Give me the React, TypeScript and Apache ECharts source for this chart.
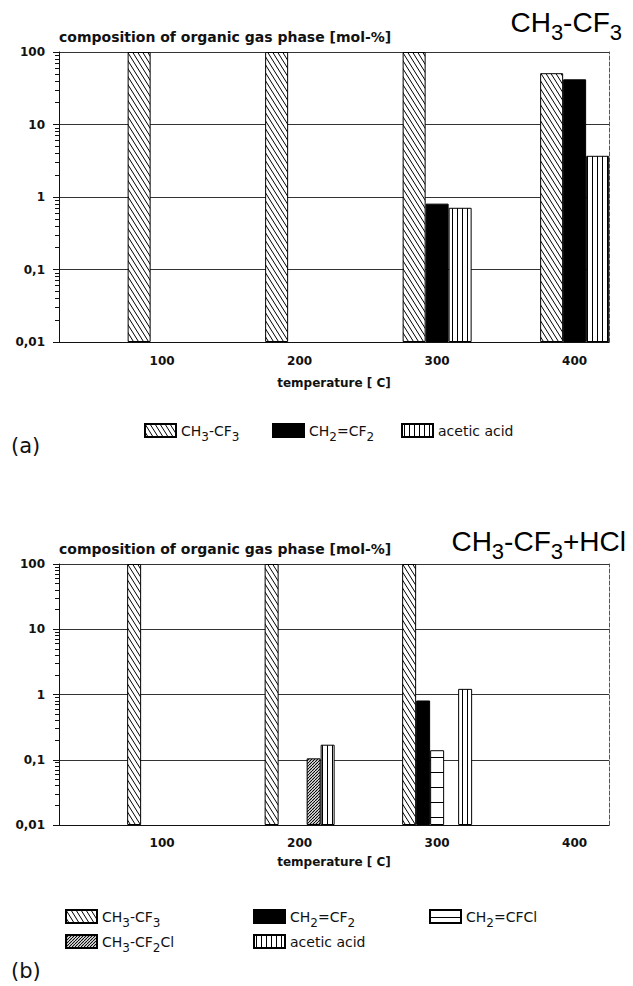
import React, { useEffect, useRef } from "react";
import * as echarts from "echarts";

// ---------- data ----------
const X_MIN = 25;
const X_MAX = 425;
const temps = [100, 200, 300, 400];
const yTickLabels = ["0,01", "0,1", "1", "10", "100"];

// (a) CH3-CF3
const aCH3CF3 = [100, 100, 100, 51];
const aCH2CF2 = [null, null, 0.81, 42];
const aAcetic = [null, null, 0.71, 3.7];

// (b) CH3-CF3 + HCl
const bCH3CF3 = [100, 100, 100, null];
const bCH2CF2 = [null, null, 0.81, null];
const bCH2CFCl = [null, null, 0.14, null];
const bCH3CF2Cl = [null, 0.105, null, null];
const bAcetic = [null, 0.17, 1.22, null];

const FONT = "DejaVu Sans";

function pairs(vals: (number | null)[]) {
  const out: number[][] = [];
  temps.forEach((t, i) => {
    const v = vals[i];
    if (v != null) out.push([t, v]);
  });
  return out;
}

function makePattern(w: number, h: number, draw: (ctx: CanvasRenderingContext2D) => void) {
  const c = document.createElement("canvas");
  c.width = w;
  c.height = h;
  const ctx = c.getContext("2d")!;
  ctx.fillStyle = "#fff";
  ctx.fillRect(0, 0, w, h);
  ctx.strokeStyle = "#000";
  ctx.fillStyle = "#000";
  ctx.lineWidth = 1;
  draw(ctx);
  return { image: c.toDataURL(), repeat: "repeat", imageWidth: w, imageHeight: h } as any;
}

const richNames: Record<string, string> = {
  "CH3-CF3": "{n|CH}{s|3}{n|-CF}{s|3}",
  "CH2=CF2": "{n|CH}{s|2}{n|=CF}{s|2}",
  "acetic acid": "{n|acetic acid}",
  "CH2=CFCl": "{n|CH}{s|2}{n|=CFCl}",
  "CH3-CF2Cl": "{n|CH}{s|3}{n|-CF}{s|2}{n|Cl}",
};

export default function App() {
  const ref = useRef<HTMLDivElement>(null);
  useEffect(() => {
    if (!ref.current) return;
    const chart = echarts.init(ref.current, null, { renderer: "svg" });

    const back = makePattern(5, 8, (ctx) => {
      ctx.beginPath();
      for (let k = -1; k <= 1; k++) {
        ctx.moveTo(k * 5, 0);
        ctx.lineTo(k * 5 + 5, 8);
      }
      ctx.stroke();
    });
    const fwd = makePattern(3, 3, (ctx) => {
      ctx.lineWidth = 1.1;
      ctx.beginPath();
      for (let k = -1; k <= 1; k++) {
        ctx.moveTo(k * 3, 3);
        ctx.lineTo(k * 3 + 3, 0);
      }
      ctx.stroke();
    });
    const vert = makePattern(5, 4, (ctx) => {
      ctx.fillRect(2, 0, 1, 4);
    });
    const horiz = makePattern(4, 15, (ctx) => {
      ctx.fillRect(0, 7, 4, 1);
    });
    const solid = "#000";

    const legendRich = {
      n: { fontFamily: FONT, fontSize: 14, lineHeight: 18, verticalAlign: "middle", color: "#111" },
      s: { fontFamily: FONT, fontSize: 12, height: 6, lineHeight: 6, verticalAlign: "bottom", color: "#111" },
    };
    const titleRich = {
      n: { fontFamily: "Liberation Sans", fontWeight: "normal", fontSize: 28, lineHeight: 30, verticalAlign: "middle", color: "#000" },
      s: { fontFamily: "Liberation Sans", fontWeight: "normal", fontSize: 22, height: 10, lineHeight: 10, verticalAlign: "bottom", color: "#000" },
    };

    const mkLegend = (name: string, left: number, top: number) => ({
      data: [name],
      left,
      top,
      itemWidth: 31,
      itemHeight: 13,
      icon: "rect",
      selectedMode: false,
      formatter: (n: string) => richNames[n] || n,
      textStyle: { rich: legendRich },
    });

    const xAxisBase = (gridIndex: number, nameGap: number, margin: number) => ({
      gridIndex,
      type: "value",
      min: X_MIN,
      max: X_MAX,
      axisLine: { show: true, onZero: false, lineStyle: { color: "#111", width: 1 } },
      axisTick: { show: false },
      splitLine: { show: false },
      axisLabel: {
        customValues: temps,
        margin,
        color: "#111",
        fontFamily: FONT,
        fontWeight: "bold",
        fontSize: 12,
      },
      name: "temperature [ C]",
      nameLocation: "middle",
      nameGap,
      nameTextStyle: { fontFamily: FONT, fontWeight: "bold", fontSize: 12, color: "#111", verticalAlign: "middle" },
    });

    const yAxisLeft = (gridIndex: number) => ({
      gridIndex,
      type: "log",
      logBase: 10,
      min: 0.01,
      max: 100,
      startValue: 0.01,
      axisLine: { show: true, lineStyle: { color: "#111", width: 1 } },
      axisTick: { show: true, length: 6, lineStyle: { color: "#111" } },
      minorTick: { show: true, splitNumber: 9, length: 4, lineStyle: { color: "#111", width: 1 } },
      axisLabel: {
        margin: 14,
        color: "#111",
        fontFamily: FONT,
        fontWeight: "bold",
        fontSize: 12,
        formatter: (v: number) => yTickLabels[Math.round(Math.log10(v)) + 2] ?? "",
      },
      splitLine: { show: true, lineStyle: { color: "#333", width: 1 } },
      name: "composition of organic gas phase [mol-%]",
      nameLocation: "end",
      nameGap: 15,
      nameTextStyle: {
        align: "left",
        verticalAlign: "middle",
        fontFamily: FONT,
        fontWeight: "bold",
        fontSize: 14,
        color: "#111",
      },
    });

    const yAxisRight = (gridIndex: number) => ({
      gridIndex,
      type: "log",
      logBase: 10,
      min: 0.01,
      max: 100,
      position: "right",
      axisLine: { show: true, lineStyle: { color: "#555", width: 1, type: "dashed" } },
      axisTick: { show: false },
      axisLabel: { show: false },
      splitLine: { show: false },
    });

    const bar = (name: string, axis: number, yAxis: number, vals: (number | null)[], color: any, width: number) => ({
      type: "bar",
      name,
      xAxisIndex: axis,
      yAxisIndex: yAxis,
      barWidth: width,
      barGap: "0%",
      data: pairs(vals),
      itemStyle: { color, borderColor: "#000", borderWidth: 1 },
    });

    const option: any = {
      animation: false,
      backgroundColor: "#fff",
      textStyle: { fontFamily: FONT },
      title: [
        { text: "{n|CH}{s|3}{n|-CF}{s|3}", right: 6, top: 2, textStyle: { fontWeight: "normal", rich: titleRich } },
        { text: "{n|CH}{s|3}{n|-CF}{s|3}{n|+HCl}", right: 2, top: 521, textStyle: { fontWeight: "normal", rich: titleRich } },
        { text: "(a)", left: 6, top: 430, textStyle: { fontFamily: FONT, fontWeight: "normal", fontSize: 21, color: "#111" } },
        { text: "(b)", left: 6, top: 955, textStyle: { fontFamily: FONT, fontWeight: "normal", fontSize: 21, color: "#111" } },
      ],
      legend: [
        mkLegend("CH3-CF3", 139, 418),
        mkLegend("CH2=CF2", 267, 418),
        mkLegend("acetic acid", 396, 418),
        mkLegend("CH3-CF3", 60, 904),
        mkLegend("CH2=CF2", 248, 904),
        mkLegend("CH2=CFCl", 424, 904),
        mkLegend("CH3-CF2Cl", 60, 929),
        mkLegend("acetic acid", 248, 929),
      ],
      grid: [
        { left: 59, top: 52, width: 550, height: 290 },
        { left: 59, top: 564, width: 550, height: 261 },
      ],
      xAxis: [xAxisBase(0, 41, 13), xAxisBase(1, 37, 12)],
      yAxis: [yAxisLeft(0), yAxisRight(0), yAxisLeft(1), yAxisRight(1)],
      series: [
        bar("CH3-CF3", 0, 0, aCH3CF3, back, 23),
        bar("CH2=CF2", 0, 0, aCH2CF2, solid, 23),
        bar("acetic acid", 0, 0, aAcetic, vert, 23),
        bar("CH3-CF3", 1, 2, bCH3CF3, back, 14),
        bar("CH2=CF2", 1, 2, bCH2CF2, solid, 14),
        bar("CH2=CFCl", 1, 2, bCH2CFCl, horiz, 14),
        bar("CH3-CF2Cl", 1, 2, bCH3CF2Cl, fwd, 14),
        bar("acetic acid", 1, 2, bAcetic, vert, 14),
      ],
    };
    chart.setOption(option);
    return () => chart.dispose();
  }, []);

  return (
    <div
      ref={ref}
      style={{ position: "absolute", left: 0, top: 0, width: 633, height: 986, background: "#fff" }}
    />
  );
}
